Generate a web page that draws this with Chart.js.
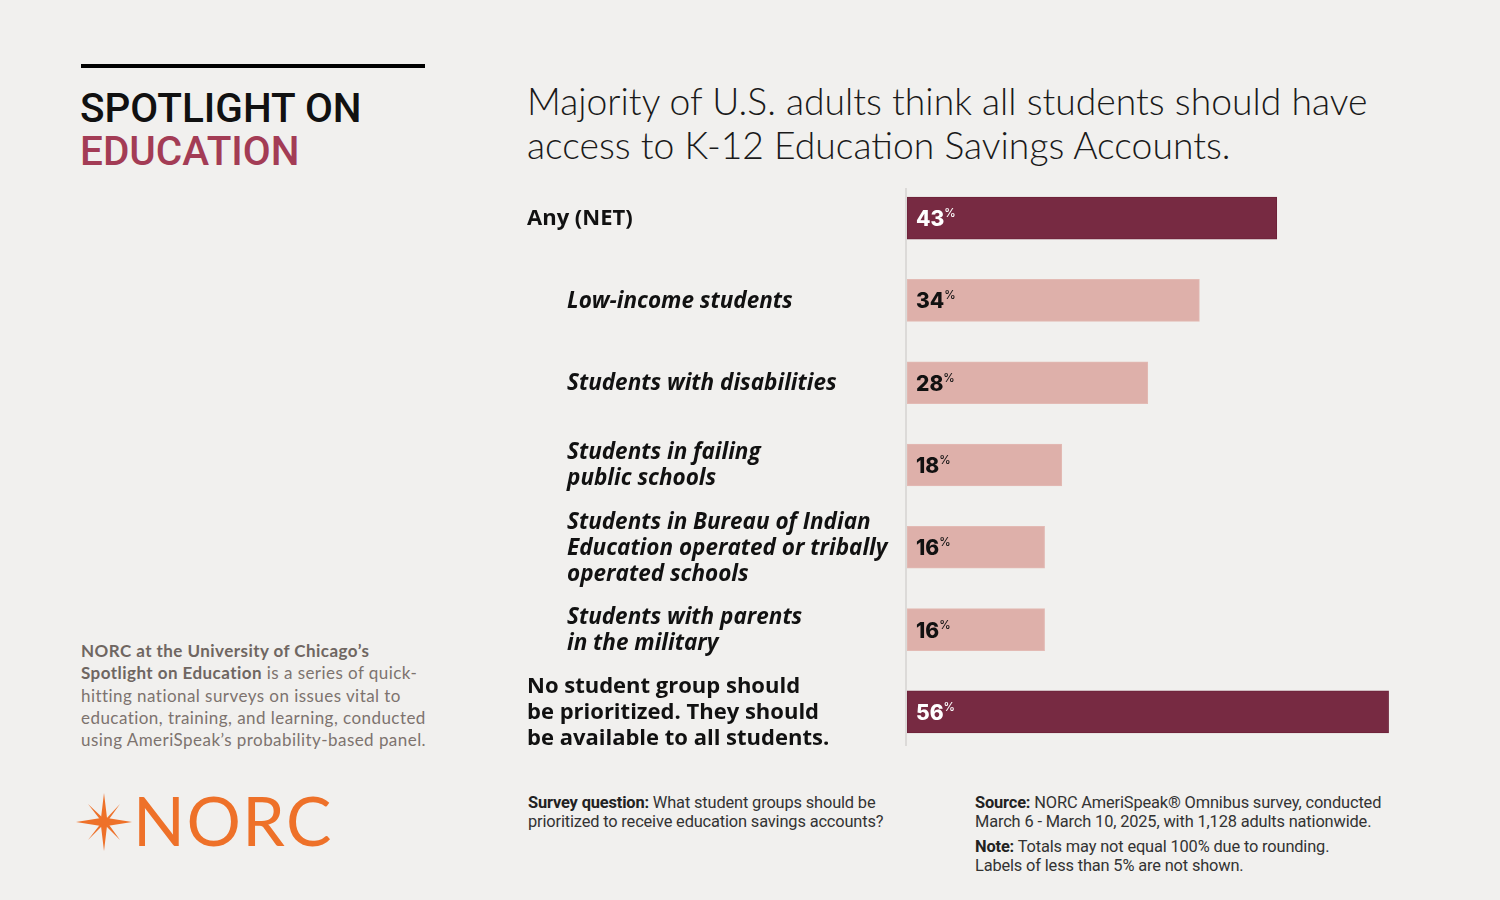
<!DOCTYPE html>
<html>
<head>
<meta charset="utf-8">
<script src="https://cdn.jsdelivr.net/npm/chart.js@4.4.1/dist/chart.umd.min.js"></script>
<style>
  html, body { margin: 0; padding: 0; background: #f1f0ee; }
  #page { position: relative; width: 1500px; height: 900px; overflow: hidden; background: #f1f0ee; }
  #chart { position: absolute; left: 0; top: 0; }
  .rule { position: absolute; left: 81px; top: 64px; width: 344px; height: 4px; background: #000; }
  .spot { position: absolute; left: 80px; top: 87px; font-family: Roboto, sans-serif; font-weight: 500; font-size: 40.5px; line-height: 43px; color: #111; }
  .spot .edu { color: #a33c55; }
  .about { position: absolute; left: 81px; top: 640px; font-family: Lato, sans-serif; font-size: 17px; line-height: 22.3px; letter-spacing: 0.45px; color: #7d736e; white-space: nowrap; }
  .about b { color: #6f6661; font-weight: 700; }
  .logo { position: absolute; left: 74px; top: 790px; }
  .title { position: absolute; left: 527px; top: 79px; font-family: Lato, sans-serif; font-weight: 300; font-size: 37.3px; line-height: 44px; color: #1a1a1a; }
  .foot { position: absolute; font-family: Roboto, sans-serif; font-size: 16.4px; line-height: 19px; color: #333; letter-spacing: -0.15px; white-space: nowrap; }
  .foot b { font-weight: 700; color: #222; }
</style>
</head>
<body>
<div id="page">
  <div class="rule"></div>
  <div class="spot">SPOTLIGHT ON<br><span class="edu">EDUCATION</span></div>
  <div class="about"><b>NORC at the University of Chicago’s</b><br><b>Spotlight on Education</b> is a series of quick-<br>hitting national surveys on issues vital to<br>education, training, and learning, conducted<br>using AmeriSpeak’s probability-based panel.</div>
  <svg class="logo" width="280" height="64" viewBox="0 0 280 64">
    <path d="M30 3 L33 28 L58 32 L33 36 L30 61 L27 36 L2 32 L27 28 Z" fill="#ee7129"/>
    <path d="M14 14 L31 30 L46 14 L33 32 L46 50 L30 34 L14 50 L28 32 Z" fill="#ee7129"/>
    <text x="59" y="56" font-family="Lato, sans-serif" font-weight="400" font-size="68" fill="#ee7129" letter-spacing="1.5">NORC</text>
  </svg>
  <div class="title">Majority of U.S. adults think all students should have<br>access to K-12 Education Savings Accounts.</div>
  <div class="foot" style="left:528px; top:793px;"><b>Survey question:</b> What student groups should be<br>prioritized to receive education savings accounts?</div>
  <div class="foot" style="left:975px; top:793px;"><b>Source:</b> NORC AmeriSpeak® Omnibus survey, conducted<br>March 6 - March 10, 2025, with 1,128 adults nationwide.</div>
  <div class="foot" style="left:975px; top:837px;"><b>Note:</b> Totals may not equal 100% due to rounding.<br>Labels of less than 5% are not shown.</div>
  <canvas id="chart" width="1500" height="900"></canvas>
</div>
<script>
// categories (each line of a wrapped label is one entry)
const categories = [
    ['Any (NET)'],
    ['Low-income students'],
    ['Students with disabilities'],
    ['Students in failing', 'public schools'],
    ['Students in Bureau of Indian', 'Education operated or tribally', 'operated schools'],
    ['Students with parents', 'in the military'],
    ['No student group should', 'be prioritized. They should', 'be available to all students.']
];
const values = [43, 34, 28, 18, 16, 16, 56];
// 'net' = summary rows, 'sub' = individual student groups
const groupType = ['net', 'sub', 'sub', 'sub', 'sub', 'sub', 'net'];

const DARK = '#772a42';
const LIGHT = '#deb0aa';

const labelPlugin = {
    id: 'rowLabels',
    beforeDatasetsDraw(chart) {
        const ctx = chart.ctx;
        const area = chart.chartArea;
        ctx.save();
        ctx.strokeStyle = '#dcdad8';
        ctx.lineWidth = 2;
        ctx.beginPath();
        ctx.moveTo(area.left - 1, area.top + 11);
        ctx.lineTo(area.left - 1, area.bottom - 7);
        ctx.stroke();
        ctx.restore();
    },
    afterDatasetsDraw(chart) {
        const ctx = chart.ctx;
        const meta = chart.getDatasetMeta(0);
        ctx.save();
        meta.data.forEach((bar, i) => {
            const net = groupType[i] === 'net';
            // category label
            const lines = categories[i];
            const lh = 26;
            ctx.fillStyle = '#111';
            ctx.textBaseline = 'middle';
            ctx.textAlign = 'left';
            ctx.font = net ? '700 22px "Open Sans", sans-serif' : 'italic 700 22.5px "Open Sans", sans-serif';
            const x0 = net ? 527 : 567;
            lines.forEach((ln, k) => {
                ctx.fillText(ln, x0, bar.y + (k - (lines.length - 1) / 2) * lh + 1);
            });
            // value label
            const txt = String(values[i]);
            ctx.fillStyle = net ? '#ffffff' : '#111111';
            ctx.font = '800 21px Inter, sans-serif';
            ctx.textBaseline = 'alphabetic';
            const vx = bar.base + 9;
            ctx.fillText(txt, vx, bar.y + 8);
            const w = ctx.measureText(txt).width;
            ctx.font = '500 11.5px Inter, sans-serif';
            ctx.fillText('%', vx + w, bar.y - 1);
        });
        ctx.restore();
    }
};

const chart = new Chart(document.getElementById('chart'), {
    type: 'bar',
    data: {
        labels: categories,
        datasets: [{
            data: values,
            backgroundColor: groupType.map(t => t === 'net' ? DARK : LIGHT),
            borderColor: groupType.map(t => t === 'net' ? '#6d2239' : '#e3bab4'),
            borderWidth: 1,
            borderSkipped: false,
            barThickness: 42
        }]
    },
    options: {
        indexAxis: 'y',
        responsive: false,
        animation: false,
        layout: { padding: { left: 907, right: 77, top: 177, bottom: 147 } },
        plugins: { legend: { display: false }, tooltip: { enabled: false } },
        scales: {
            x: { display: false, min: 0, max: 60 },
            y: { display: false }
        }
    },
    plugins: [labelPlugin]
});
</script>
</body>
</html>
